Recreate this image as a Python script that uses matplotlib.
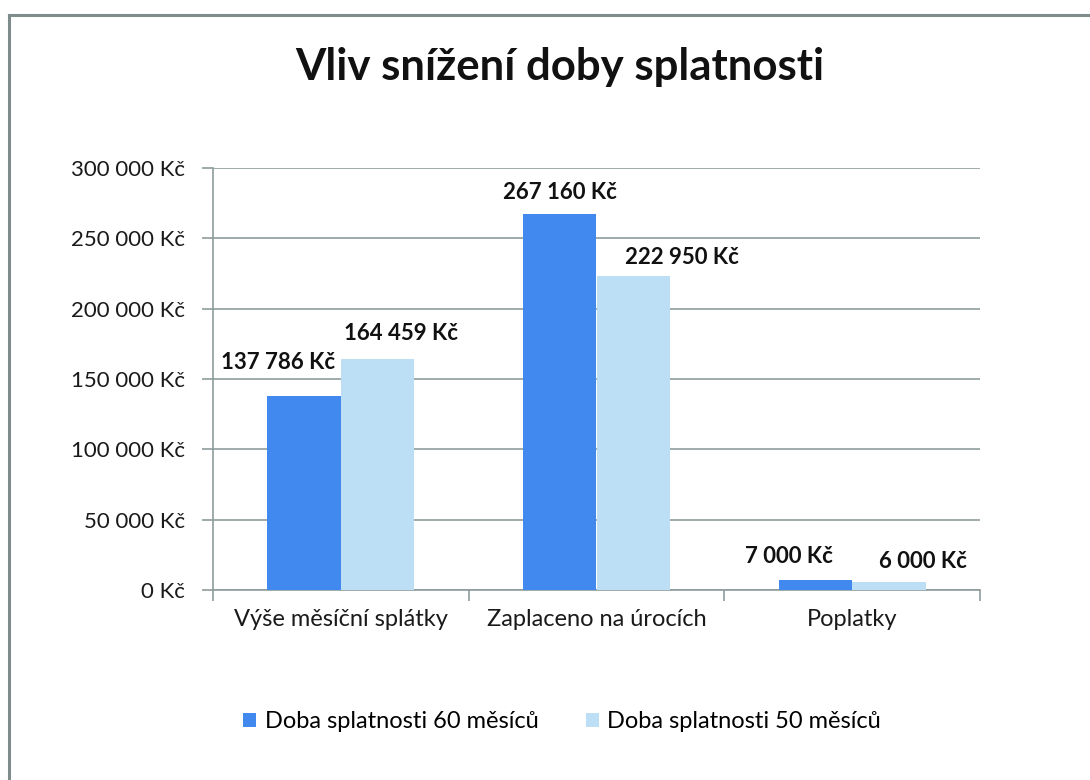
import matplotlib
matplotlib.use("Agg")
import matplotlib.pyplot as plt
from matplotlib.ticker import FuncFormatter
from matplotlib.lines import Line2D
import numpy as np

plt.rcParams['font.family'] = ['Lato', 'DejaVu Sans']

title = "Vliv snížení doby splatnosti"
categories = ["Výše měsíční splátky", "Zaplaceno na úrocích", "Poplatky"]
series_names = ["Doba splatnosti 60 měsíců", "Doba splatnosti 50 měsíců"]
values_60 = [137786, 267160, 7000]
values_50 = [164459, 222950, 6000]
y_ticks = [0, 50000, 100000, 150000, 200000, 250000, 300000]

colors = ["#4189ef", "#bddff6"]
grid_color = "#8f9c9c"

def fmt_kc(v, pos=None):
    s = f"{int(round(v)):,}".replace(",", " ")
    return f"{s} Kč"

W, H = 1090, 780
fig = plt.figure(figsize=(W / 100, H / 100), dpi=100)
fig.patch.set_facecolor("white")

# outer frame (top and left visible)
fig.add_artist(Line2D([9 / W, 1.0], [1 - 15 / H, 1 - 15 / H], color="#7f8c8c", lw=2.2, transform=fig.transFigure))
fig.add_artist(Line2D([9 / W, 9 / W], [0, 1 - 15 / H], color="#7f8c8c", lw=2.2, transform=fig.transFigure))

ax = fig.add_axes([213 / W, 1 - 590 / H, (980 - 213) / W, (590 - 168) / H])

x = np.arange(len(categories))
bw = 0.287
b1 = ax.bar(x - bw / 2, values_60, bw, color=colors[0], label=series_names[0], zorder=3)
b2 = ax.bar(x + bw / 2, values_50, bw, color=colors[1], label=series_names[1], zorder=3)

ax.set_xlim(-0.5, len(categories) - 0.5)
ax.set_ylim(0, 300000)
ax.set_yticks(y_ticks)
ax.yaxis.set_major_formatter(FuncFormatter(fmt_kc))
ax.grid(axis="y", color=grid_color, lw=1.2, zorder=0)
ax.set_axisbelow(True)

for s in ["top", "right"]:
    ax.spines[s].set_visible(False)
for s in ["left", "bottom"]:
    ax.spines[s].set_color(grid_color)
    ax.spines[s].set_linewidth(1.2)

ax.set_xticks(x)
ax.set_xticklabels(categories, fontsize=17, color="#1a1a1a")
ax.tick_params(axis="x", length=0, pad=14)
ax.set_xticks(np.arange(len(categories) + 1) - 0.5, minor=True)
ax.tick_params(axis="x", which="minor", length=8, color=grid_color, width=1.2)
ax.tick_params(axis="y", length=8, color=grid_color, width=1.2, labelsize=16, labelcolor="#1a1a1a", pad=12)

# data labels (manual offsets in pixels, as placed in the reference)
offs_60 = [(-26, 34), (0, 22), (-27, 24)]
offs_50 = [(23, 25), (49, 19), (34, 20)]
for bars, vals, offs in [(b1, values_60, offs_60), (b2, values_50, offs_50)]:
    for rect, v, (dx, dy) in zip(bars, vals, offs):
        ax.annotate(fmt_kc(v), (rect.get_x() + rect.get_width() / 2, v),
                    xytext=(dx, dy), textcoords="offset pixels",
                    ha="center", va="center", fontsize=16, fontweight="bold", color="#111111")

fig.text(560 / W, 1 - 67 / H, title, ha="center", va="center", fontsize=31.5, fontweight="bold", color="#111111")

leg = fig.legend(handles=[b1, b2], labels=series_names, loc="center", bbox_to_anchor=(562 / W, 1 - 722 / H),
                 ncol=2, frameon=False, fontsize=17, handlelength=0.55, handleheight=0.55,
                 handletextpad=0.35, columnspacing=2.0)

fig.savefig("out.png", dpi=100, facecolor="white")
